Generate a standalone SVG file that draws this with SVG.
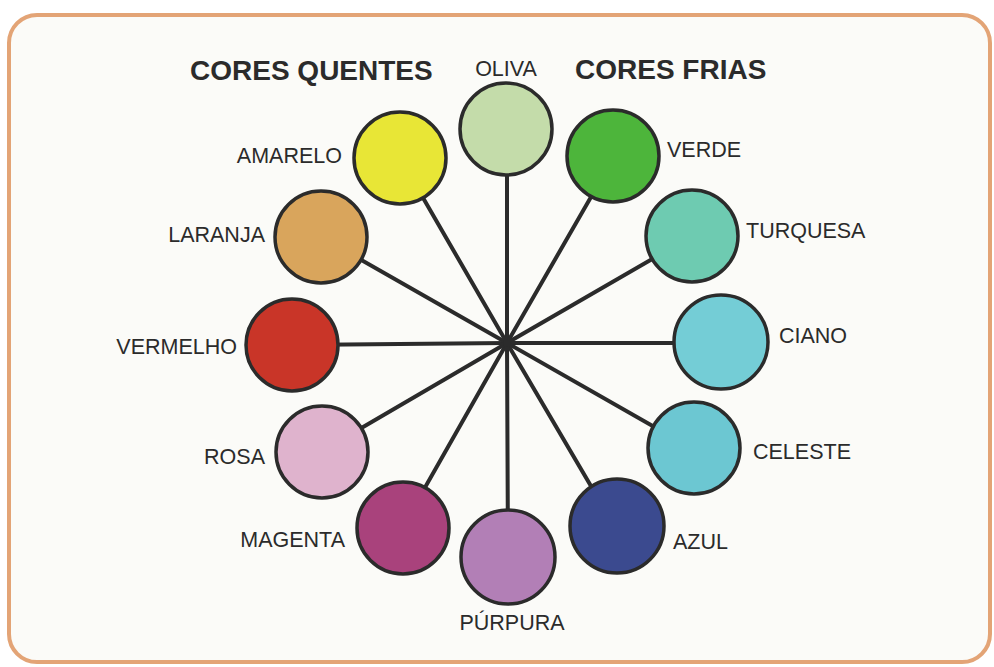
<svg xmlns="http://www.w3.org/2000/svg" width="994" height="667" viewBox="0 0 994 667">
  <style>
    .lbl { font-family: "Liberation Sans", Arial, sans-serif; font-size: 21.5px; fill: #2b2b2b; }
    .ttl { font-family: "Liberation Sans", Arial, sans-serif; font-size: 28px; font-weight: bold; fill: #2b2b2b; }
    .dot { stroke: #2b2b2b; stroke-width: 3.5; }
    .spoke { stroke: #2b2b2b; stroke-width: 4; stroke-linecap: round; }
  </style>
  <rect x="0" y="0" width="994" height="667" fill="#ffffff"/>
  <rect id="frame" x="9" y="15" width="981" height="647" rx="28" ry="28" fill="#fbfbf8" stroke="#e3a476" stroke-width="4"/>

  <text class="ttl" x="190" y="80">CORES QUENTES</text>
  <text class="ttl" x="575" y="79">CORES FRIAS</text>

  <g id="connectors">
    <line class="spoke" x1="507" y1="343" x2="507" y2="129"/>
    <line class="spoke" x1="507" y1="343" x2="614" y2="157"/>
    <line class="spoke" x1="507" y1="343" x2="692" y2="236"/>
    <line class="spoke" x1="507" y1="343" x2="721" y2="343"/>
    <line class="spoke" x1="507" y1="343" x2="693" y2="449"/>
    <line class="spoke" x1="507" y1="343" x2="615" y2="527"/>
    <line class="spoke" x1="507" y1="343" x2="508" y2="557"/>
    <line class="spoke" x1="507" y1="343" x2="402" y2="528"/>
    <line class="spoke" x1="507" y1="343" x2="322" y2="451"/>
    <line class="spoke" x1="507" y1="343" x2="292" y2="345"/>
    <line class="spoke" x1="507" y1="343" x2="321" y2="237"/>
    <line class="spoke" x1="507" y1="343" x2="400" y2="158"/>
    <circle cx="507" cy="343" r="4" fill="#2b2b2b"/>
  </g>

  <g id="oliva">
    <circle class="dot" cx="506" cy="129" r="46" fill="#c4dcaa"/>
    <text class="lbl" x="506" y="76" text-anchor="middle">OLIVA</text>
  </g>
  <g id="verde">
    <circle class="dot" cx="613" cy="156" r="46" fill="#4db53b"/>
    <text class="lbl" x="667" y="157">VERDE</text>
  </g>
  <g id="turquesa">
    <circle class="dot" cx="692" cy="236" r="46" fill="#6ecbb1"/>
    <text class="lbl" x="746" y="238">TURQUESA</text>
  </g>
  <g id="ciano">
    <circle class="dot" cx="721" cy="342" r="47" fill="#74cdd6"/>
    <text class="lbl" x="779" y="343">CIANO</text>
  </g>
  <g id="celeste">
    <circle class="dot" cx="694" cy="448" r="46" fill="#6cc7d2"/>
    <text class="lbl" x="753" y="459">CELESTE</text>
  </g>
  <g id="azul">
    <circle class="dot" cx="617" cy="526" r="47" fill="#3b4a8f"/>
    <text class="lbl" x="673" y="549">AZUL</text>
  </g>
  <g id="purpura">
    <circle class="dot" cx="508" cy="557" r="47" fill="#b27fb6"/>
    <text class="lbl" x="512" y="630" text-anchor="middle">PÚRPURA</text>
  </g>
  <g id="magenta">
    <circle class="dot" cx="403" cy="528" r="46" fill="#a9427c"/>
    <text class="lbl" x="345" y="547" text-anchor="end">MAGENTA</text>
  </g>
  <g id="rosa">
    <circle class="dot" cx="322" cy="452" r="46" fill="#dfb3cd"/>
    <text class="lbl" x="265" y="464" text-anchor="end">ROSA</text>
  </g>
  <g id="vermelho">
    <circle class="dot" cx="292" cy="345" r="46" fill="#c93528"/>
    <text class="lbl" x="237" y="354" text-anchor="end">VERMELHO</text>
  </g>
  <g id="laranja">
    <circle class="dot" cx="321" cy="237" r="46" fill="#d9a55c"/>
    <text class="lbl" x="265" y="242" text-anchor="end">LARANJA</text>
  </g>
  <g id="amarelo">
    <circle class="dot" cx="400" cy="158" r="46" fill="#e8e636"/>
    <text class="lbl" x="342" y="163" text-anchor="end">AMARELO</text>
  </g>
</svg>
